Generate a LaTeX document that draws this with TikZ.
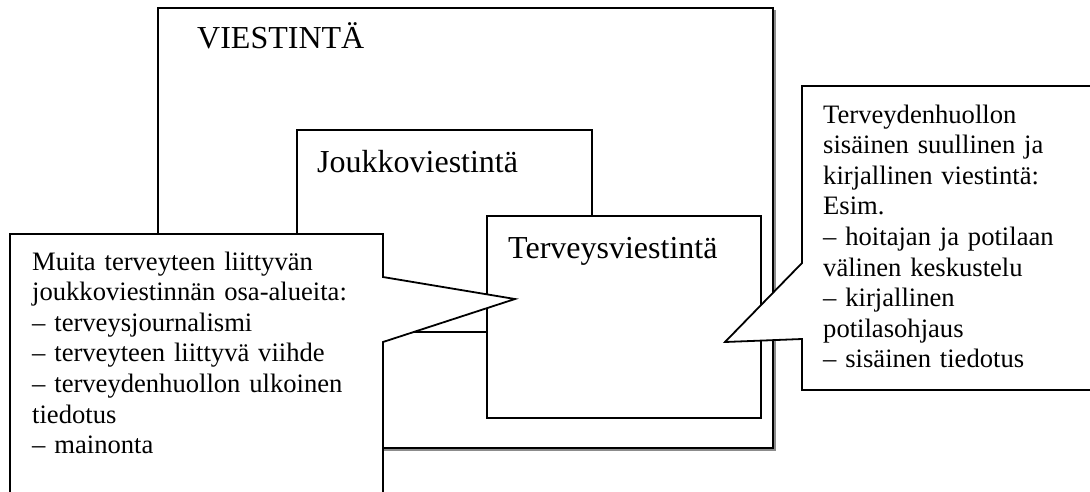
\documentclass[tikz,border=0pt]{standalone}
\usepackage{fontspec}
\setmainfont{Liberation Serif}
\usetikzlibrary{positioning}
\definecolor{vsink}{HTML}{000000}
\definecolor{vsshade}{HTML}{8C8C8C}
\tikzset{
  frame/.style={draw=vsink, line width=1.8pt, fill=white, inner sep=0pt,
    outer sep=0pt, anchor=north west},
  shade/.style={draw=vsshade, line width=1.4pt},
  bubble/.style={draw=vsink, line width=1.8pt, fill=white, line join=miter},
  title/.style={font=\fontsize{32}{36}\selectfont, inner sep=0pt, anchor=base west},
  note/.style={font=\fontsize{26.6}{30.6}\selectfont, inner sep=0pt,
    anchor=base west, align=left},
}

\begin{document}
\begin{tikzpicture}[x=1pt, y=-1pt]
  \clip (0,0) rectangle (1090,491);
  \fill[white] (0,0) rectangle (1090,491);

  % nested frames
  \draw[shade] (775,10) -- (775,450) -- (160,450);
  \node[frame, minimum width=615pt, minimum height=440pt] (viestinta) at (158,8) {};
  \node[frame, minimum width=295pt, minimum height=202pt] (joukko) at (297,130) {};
  \node[frame, minimum width=274pt, minimum height=202pt] (terveys) at (487,216) {};
  \node[title] (tviestinta) at (197,48) {VIESTINTÄ};
  \node[title] (tjoukko) at (317,172) {Joukkoviestintä};
  \node[title] (tterveys) at (508,258) {Terveysviestintä};

  % left callout
  \coordinate (ltip) at (515,299);
  \draw[bubble] (10,234) -- (383,234) -- (383,277) -- (ltip) -- (383,342)
    -- (383,520) -- (10,520) -- cycle;
  \node[note, text width=350pt] (lnote) at (32,270)
    {Muita terveyteen liittyvän\\
     joukkoviestinnän osa-alueita:\\
     – terveysjournalismi\\
     – terveyteen liittyvä viihde\\
     – terveydenhuollon ulkoinen\\
     tiedotus\\
     – mainonta};

  % right callout
  \coordinate (rtip) at (725,342);
  \draw[bubble] (802,86) -- (1110,86) -- (1110,390) -- (802,390) -- (802,339)
    -- (rtip) -- (802,263) -- cycle;
  \node[note, text width=270pt] (rnote) at (823,123)
    {Terveydenhuollon\\
     sisäinen suullinen ja\\
     kirjallinen viestintä:\\
     Esim.\\
     – hoitajan ja potilaan\\
     välinen keskustelu\\
     – kirjallinen\\
     potilasohjaus\\
     – sisäinen tiedotus};
\end{tikzpicture}
\end{document}
